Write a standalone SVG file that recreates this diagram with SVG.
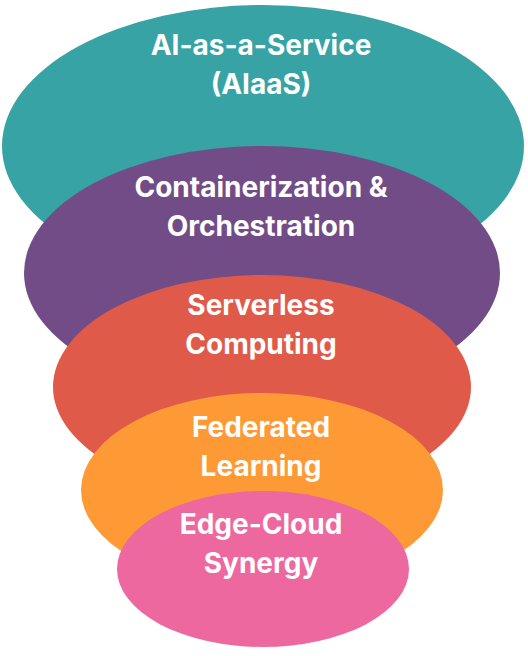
<svg xmlns="http://www.w3.org/2000/svg" width="528" height="656" viewBox="0 0 528 656">
<style>
.lbl{font-family:Inter,"Noto Sans","DejaVu Sans",sans-serif;font-weight:700;font-size:28px;fill:#ffffff;text-anchor:middle}
</style>
<rect width="528" height="656" fill="#ffffff"/>
<g id="n1"><ellipse cx="263" cy="146" rx="261" ry="141" fill="#38A3A5"/>
<text class="lbl" x="261" y="55">AI-as-a-Service</text><text class="lbl" x="261" y="94">(AIaaS)</text></g>
<g id="n2"><ellipse cx="262" cy="273" rx="238" ry="127" fill="#724C86"/>
<text class="lbl" x="261" y="197">Containerization &amp;</text><text class="lbl" x="261" y="236">Orchestration</text></g>
<g id="n3"><ellipse cx="262" cy="387" rx="209" ry="112" fill="#E05A4A"/>
<text class="lbl" x="261" y="315">Serverless</text><text class="lbl" x="261" y="354">Computing</text></g>
<g id="n4"><ellipse cx="262" cy="490" rx="181" ry="97" fill="#FE9A35"/>
<text class="lbl" x="261" y="437">Federated</text><text class="lbl" x="261" y="476">Learning</text></g>
<g id="n5"><ellipse cx="263" cy="569" rx="146" ry="78" fill="#EC689F"/>
<text class="lbl" x="261" y="534">Edge-Cloud</text><text class="lbl" x="261" y="573">Synergy</text></g>
<g id="connectors"></g>
</svg>
